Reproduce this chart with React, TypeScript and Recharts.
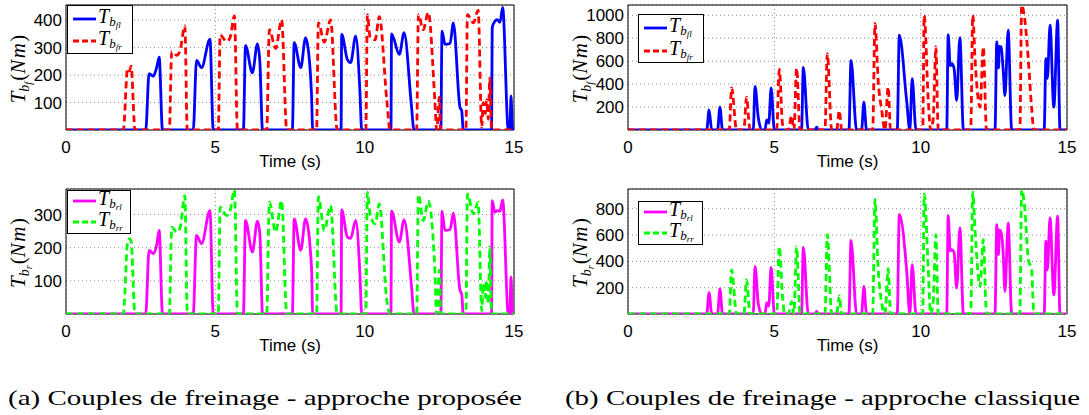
import React from "react";
import { LineChart, Line, XAxis, YAxis, CartesianGrid, ReferenceArea, Legend } from "recharts";

type Pt = [number, number];

// (a) approche proposée — couples avant
const fLeftProp: Pt[] = [
  [0, 0], [2.67, 0], [2.78, 205], [2.92, 196], [3.04, 230], [3.12, 265], [3.23, 0],
  [4.26, 0], [4.37, 253], [4.54, 227], [4.82, 331], [4.93, 0],
  [5.94, 0], [6.01, 307], [6.24, 208], [6.41, 313], [6.49, 250], [6.58, 0],
  [7.58, 0], [7.64, 318], [7.86, 227], [8.02, 335], [8.06, 325], [8.22, 130], [8.26, 0],
  [9.21, 0], [9.23, 348], [9.42, 257], [9.53, 245], [9.7, 342], [9.84, 143], [9.9, 0],
  [10.88, 0], [10.9, 350], [11.16, 275], [11.32, 354], [11.57, 83], [11.65, 0],
  [12.55, 0], [12.59, 360], [12.69, 312], [12.86, 315], [12.97, 390], [13.19, 83], [13.25, 70], [13.3, 0],
  [14.25, 0], [14.27, 372], [14.36, 396], [14.44, 402], [14.53, 392], [14.62, 446], [14.81, 0],
  [14.86, 0], [14.9, 124], [14.95, 0], [15, 0],
];
const fRightProp: Pt[] = [
  [0, 0], [1.92, 0], [2.06, 224], [2.12, 215], [2.18, 232], [2.31, 0],
  [3.46, 0], [3.54, 285], [3.71, 272], [3.82, 290], [3.98, 379], [4.06, 0],
  [5.1, 0], [5.16, 346], [5.38, 322], [5.49, 335], [5.64, 415], [5.74, 0],
  [6.72, 0], [6.81, 365], [7.02, 297], [7.22, 401], [7.39, 0],
  [8.39, 0], [8.45, 390], [8.65, 320], [8.86, 401], [9.08, 0],
  [10.04, 0], [10.09, 420], [10.18, 340], [10.35, 328], [10.49, 413], [10.74, 110], [10.85, 0],
  [11.74, 0], [11.8, 420], [11.96, 365], [12.13, 428], [12.35, 107], [12.41, 0], [12.5, 120], [12.54, 0],
  [13.39, 0], [13.44, 420], [13.64, 390], [13.8, 435], [13.92, 10], [13.97, 100], [14.04, 60],
  [14.08, 110], [14.14, 40], [14.19, 190], [14.25, 0], [15, 0],
];

// (a) approche proposée — couples arrière
const rLeftProp: Pt[] = [
  [0, 0], [2.67, 0], [2.78, 192], [2.92, 182], [3.04, 210], [3.12, 252], [3.23, 0],
  [4.26, 0], [4.37, 237], [4.54, 212], [4.82, 312], [4.93, 0],
  [5.94, 0], [6.01, 282], [6.24, 187], [6.41, 280], [6.49, 242], [6.58, 0],
  [7.58, 0], [7.64, 287], [7.86, 192], [8.02, 287], [8.22, 142], [8.26, 0],
  [9.21, 0], [9.23, 314], [9.42, 232], [9.53, 228], [9.7, 282], [9.84, 122], [9.9, 0],
  [10.88, 0], [10.9, 310], [11.16, 217], [11.32, 284], [11.57, 82], [11.65, 0],
  [12.55, 0], [12.59, 310], [12.69, 252], [12.86, 255], [12.97, 304], [13.19, 72], [13.25, 60], [13.3, 0],
  [14.25, 0], [14.27, 342], [14.36, 307], [14.44, 312], [14.53, 310], [14.62, 344], [14.81, 0],
  [14.86, 0], [14.9, 112], [14.95, 0], [15, 0],
];
const rRightProp: Pt[] = [
  [0, 0], [1.92, 0], [2.06, 215], [2.12, 227], [2.18, 220], [2.31, 0],
  [3.46, 0], [3.54, 262], [3.71, 247], [3.82, 260], [3.98, 357], [4.06, 0],
  [5.1, 0], [5.16, 322], [5.38, 297], [5.49, 310], [5.64, 374], [5.74, 0],
  [6.72, 0], [6.81, 337], [7.02, 247], [7.22, 342], [7.39, 0],
  [8.39, 0], [8.45, 354], [8.65, 252], [8.86, 327], [9.08, 0],
  [10.04, 0], [10.09, 367], [10.18, 302], [10.35, 272], [10.49, 332], [10.74, 42], [10.85, 0],
  [11.74, 0], [11.8, 360], [11.96, 282], [12.13, 340], [12.35, 132], [12.41, 0], [12.5, 132], [12.54, 0],
  [13.39, 0], [13.44, 362], [13.64, 302], [13.8, 337], [13.92, 10], [13.97, 92], [14.04, 50],
  [14.08, 100], [14.14, 30], [14.19, 202], [14.25, 0], [15, 0],
];

// (b) approche classique — couples avant
const fLeftClass: Pt[] = [
  [0, 0], [2.69, 0], [2.77, 175], [2.86, 0], [3.06, 0], [3.14, 199], [3.23, 0],
  [4.28, 0], [4.34, 380], [4.45, 111], [4.57, 0], [4.68, 0], [4.74, 88], [4.81, 60], [4.89, 368], [5.0, 0],
  [5.93, 0], [5.99, 546], [6.16, 0], [6.39, 0], [6.45, 25], [6.5, 0],
  [7.55, 0], [7.62, 607], [7.81, 0], [7.98, 0], [8.06, 242], [8.15, 0],
  [9.2, 0], [9.27, 826], [9.52, 257], [9.63, 0], [9.71, 447], [9.84, 0],
  [10.89, 0], [10.94, 832], [11.01, 560], [11.06, 578], [11.14, 540], [11.23, 257], [11.34, 806], [11.46, 0],
  [12.54, 0], [12.6, 768], [12.66, 540], [12.69, 730], [12.75, 724], [12.82, 520], [12.88, 300], [12.99, 870], [13.11, 0],
  [14.22, 0], [14.28, 622], [14.33, 450], [14.42, 914], [14.55, 199], [14.68, 958], [14.76, 0], [15, 0],
];
const fRightClass: Pt[] = [
  [0, 0], [3.46, 0], [3.54, 368], [3.71, 0], [3.96, 0], [4.05, 286], [4.17, 0],
  [5.08, 0], [5.17, 528], [5.28, 50], [5.36, 0], [5.48, 0], [5.59, 125], [5.67, 0], [5.76, 540], [5.88, 0],
  [6.73, 0], [6.81, 666], [6.96, 0], [7.13, 0], [7.22, 169], [7.3, 0],
  [8.36, 0], [8.44, 929], [8.55, 420], [8.67, 170], [8.78, 0], [8.89, 374], [8.97, 0],
  [10.07, 0], [10.12, 1000], [10.26, 257], [10.34, 0], [10.43, 100], [10.52, 724], [10.6, 0],
  [11.71, 0], [11.78, 1001], [11.86, 607], [12.03, 200], [12.14, 724], [12.25, 0],
  [13.39, 0], [13.45, 1088], [13.56, 958], [13.68, 607], [13.79, 199], [13.87, 0], [15, 0],
];

// (b) approche classique — couples arrière
const rLeftClass: Pt[] = [
  [0, 0], [2.69, 0], [2.77, 163], [2.86, 0], [3.06, 0], [3.14, 191], [3.23, 0],
  [4.28, 0], [4.34, 362], [4.45, 82], [4.57, 0], [4.68, 0], [4.74, 87], [4.81, 60], [4.89, 354], [5.0, 0],
  [5.93, 0], [5.99, 507], [6.16, 0], [6.39, 0], [6.45, 20], [6.5, 0],
  [7.55, 0], [7.62, 560], [7.81, 0], [7.98, 0], [8.06, 209], [8.15, 0],
  [9.2, 0], [9.27, 757], [9.52, 336], [9.63, 0], [9.71, 375], [9.84, 0],
  [10.89, 0], [10.94, 749], [11.01, 480], [11.06, 489], [11.14, 470], [11.23, 196], [11.34, 655], [11.46, 0],
  [12.54, 0], [12.6, 680], [12.66, 451], [12.69, 640], [12.75, 617], [12.82, 464], [12.88, 171], [12.99, 693], [13.11, 0],
  [14.22, 0], [14.28, 553], [14.33, 336], [14.42, 731], [14.55, 145], [14.68, 744], [14.76, 0], [15, 0],
];
const rRightClass: Pt[] = [
  [0, 0], [3.46, 0], [3.54, 336], [3.71, 0], [3.96, 0], [4.05, 260], [4.17, 0],
  [5.08, 0], [5.17, 510], [5.28, 130], [5.36, 0], [5.48, 0], [5.59, 94], [5.67, 0], [5.76, 510], [5.88, 0],
  [6.73, 0], [6.81, 604], [6.96, 0], [7.13, 0], [7.22, 138], [7.3, 0],
  [8.36, 0], [8.44, 871], [8.55, 336], [8.67, 80], [8.78, 0], [8.89, 344], [8.97, 0],
  [10.07, 0], [10.12, 910], [10.26, 336], [10.34, 0], [10.43, 100], [10.52, 604], [10.6, 0],
  [11.71, 0], [11.78, 927], [11.86, 629], [12.03, 209], [12.14, 566], [12.25, 0],
  [13.39, 0], [13.45, 948], [13.56, 795], [13.68, 413], [13.79, 336], [13.87, 0], [15, 0],
];

const xTicks = [0, 5, 10, 15];
const yTicksFrontProp = [100, 200, 300, 400];
const yTicksRearProp = [100, 200, 300];
const yTicksFrontClass = [200, 400, 600, 800, 1000];
const yTicksRearClass = [200, 400, 600, 800];

const captionA = "(a) Couples de freinage - approche proposée";
const captionB = "(b) Couples de freinage - approche classique";

const pts = (a: Pt[]) => a.map(([t, v]) => ({ t, v }));

const SERIF = '"Liberation Serif", "Times New Roman", Times, serif';
const SANS = '"Liberation Sans", Arial, Helvetica, sans-serif';

function YLabel({ cx, cy, sub }: any) {
  return (
    <text
      transform={`translate(${cx},${cy}) rotate(-90)`}
      x={0}
      y={6}
      textAnchor="middle"
      style={{ fontFamily: SERIF, fontSize: 21 }}
      fill="#000"
    >
      <tspan fontStyle="italic">T</tspan>
      <tspan fontStyle="italic" fontSize={14} dy={4}>b</tspan>
      <tspan fontStyle="italic" fontSize={10} dy={3}>{sub}</tspan>
      <tspan dy={-7} dx={1}>(</tspan>
      <tspan fontStyle="italic" letterSpacing={1.5}>Nm</tspan>
      <tspan>)</tspan>
    </text>
  );
}

function XLabel({ cx }: any) {
  return (
    <text x={cx} y={167} textAnchor="middle" style={{ fontFamily: SANS, fontSize: 17 }} fill="#000">
      Time (s)
    </text>
  );
}

function LegendBox({ w, h, rows, items }: any) {
  return (
    <svg width={w} height={h} style={{ display: "block", overflow: "visible" }}>
      <rect x={0.5} y={0.5} width={w - 1} height={h - 1} fill="#fff" stroke="#000" strokeWidth={1} />
      {items.map((it: any, i: number) => (
        <g key={i}>
          <line
            x1={6}
            x2={29}
            y1={rows[i]}
            y2={rows[i]}
            stroke={it.color}
            strokeWidth={2.8}
            strokeDasharray={it.dash}
          />
          <text x={31} y={rows[i] + 4} style={{ fontFamily: SERIF, fontSize: 20, fontStyle: "italic" }} fill="#000">
            <tspan>T</tspan>
            <tspan fontSize={13} dy={3}>b</tspan>
            <tspan fontSize={9} dy={2}>{it.sub}</tspan>
          </text>
        </g>
      ))}
    </svg>
  );
}

function Panel({ left, top, width, yWidth, plotW, yMax, yTicks, ySub, s1, s2, legend }: any) {
  const rightMargin = width - yWidth - plotW;
  const tickStyle = { fontSize: 17, fill: "#000", fontFamily: SANS };
  return (
    <div style={{ position: "absolute", left, top }}>
      <LineChart width={width} height={175} margin={{ top: 5, right: rightMargin, left: 0, bottom: 0 }}>
        <CartesianGrid stroke="#8a8a8a" strokeDasharray="1 3" strokeWidth={1} />
        <XAxis
          dataKey="t"
          type="number"
          domain={[0, 15]}
          ticks={xTicks}
          interval={0}
          allowDataOverflow
          height={45}
          axisLine={false}
          tickLine={false}
          tickSize={3}
          tickMargin={8}
          tick={tickStyle}
          label={<XLabel cx={yWidth + plotW / 2} />}
        />
        <YAxis
          type="number"
          domain={[0, yMax]}
          ticks={yTicks}
          interval={0}
          allowDataOverflow
          width={yWidth}
          axisLine={false}
          tickLine={false}
          tickSize={3}
          tickMargin={1}
          tick={tickStyle}
          label={<YLabel cx={yWidth - 47} cy={69} sub={ySub} />}
        />
        <Line
          data={pts(s1.data)}
          dataKey="v"
          type="monotone"
          stroke={s1.color}
          strokeWidth={2.8}
          dot={false}
          activeDot={false}
          isAnimationActive={false}
        />
        <Line
          data={pts(s2.data)}
          dataKey="v"
          type="monotone"
          stroke={s2.color}
          strokeWidth={2.8}
          strokeDasharray="7 4"
          dot={false}
          activeDot={false}
          isAnimationActive={false}
        />
        <ReferenceArea x1={0} x2={15} y1={0} y2={yMax} fill="none" stroke="#000" strokeWidth={1} ifOverflow="visible" />
        <Legend
          layout="horizontal"
          verticalAlign="middle"
          wrapperStyle={{ position: "absolute", left: legend.x, top: legend.y, width: legend.w, height: legend.h, margin: 0 }}
          content={() => (
            <LegendBox
              w={legend.w}
              h={legend.h}
              rows={legend.rows}
              items={[
                { color: s1.color, sub: s1.sub },
                { color: s2.color, sub: s2.sub, dash: "6 3" },
              ]}
            />
          )}
        />
      </LineChart>
    </div>
  );
}

export default function App() {
  return (
    <div style={{ position: "absolute", left: 0, top: 0, width: 1089, height: 415, background: "#fff" }}>
      <Panel
        left={0}
        top={0}
        width={530}
        yWidth={66}
        plotW={448}
        yMax={455}
        yTicks={yTicksFrontProp}
        ySub="f"
        s1={{ data: fLeftProp, color: "#0000ff", sub: "fl" }}
        s2={{ data: fRightProp, color: "#ff0000", sub: "fr" }}
        legend={{ x: 67, y: 5, w: 66, h: 49, rows: [14, 36] }}
      />
      <Panel
        left={0}
        top={184}
        width={530}
        yWidth={66}
        plotW={448}
        yMax={377}
        yTicks={yTicksRearProp}
        ySub="r"
        s1={{ data: rLeftProp, color: "#ff00ff", sub: "rl" }}
        s2={{ data: rRightProp, color: "#00ff00", sub: "rr" }}
        legend={{ x: 67, y: 6, w: 64, h: 44, rows: [11, 32] }}
      />
      <Panel
        left={540}
        top={0}
        width={549}
        yWidth={88}
        plotW={439}
        yMax={1090}
        yTicks={yTicksFrontClass}
        ySub="f"
        s1={{ data: fLeftClass, color: "#0000ff", sub: "fl" }}
        s2={{ data: fRightClass, color: "#ff0000", sub: "fr" }}
        legend={{ x: 98, y: 14, w: 66, h: 49, rows: [14, 37] }}
      />
      <Panel
        left={540}
        top={184}
        width={549}
        yWidth={88}
        plotW={439}
        yMax={950}
        yTicks={yTicksRearClass}
        ySub="r"
        s1={{ data: rLeftClass, color: "#ff00ff", sub: "rl" }}
        s2={{ data: rRightClass, color: "#00ff00", sub: "rr" }}
        legend={{ x: 98, y: 17, w: 65, h: 44, rows: [11, 32] }}
      />
      <svg width={1089} height={415} style={{ position: "absolute", left: 0, top: 0, pointerEvents: "none" }}>
        <text x={8} y={405} style={{ fontFamily: SERIF, fontSize: 22 }} fill="#000" textLength={514} lengthAdjust="spacingAndGlyphs">
          {captionA}
        </text>
        <text x={565} y={405} style={{ fontFamily: SERIF, fontSize: 22 }} fill="#000" textLength={515} lengthAdjust="spacingAndGlyphs">
          {captionB}
        </text>
      </svg>
    </div>
  );
}
